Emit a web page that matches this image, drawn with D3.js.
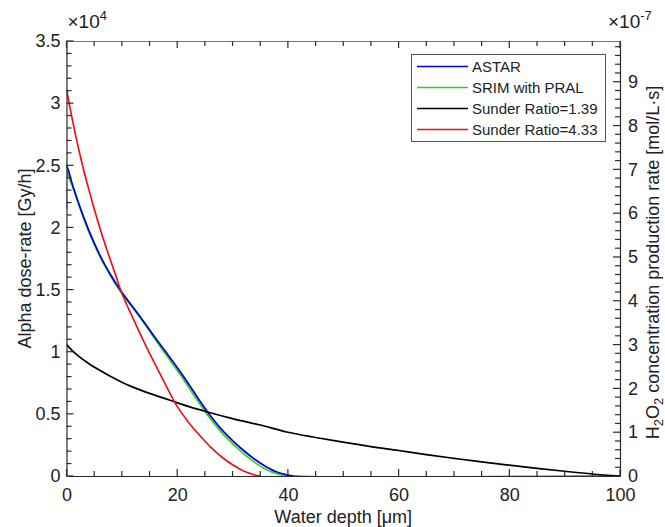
<!DOCTYPE html>
<html>
<head>
<meta charset="utf-8">
<script src="https://cdn.jsdelivr.net/npm/d3@7"></script>
<style>
  body { margin: 0; background: #fff; }
  text { font-family: "Liberation Sans", Arial, sans-serif; fill: #222; }
</style>
</head>
<body>
<div id="chart"></div>
<script>
// Depth in um, dose rate in 1e4 Gy/h
const astarDepth = [0, 0, 1, 2, 3, 4, 5, 6, 7, 8, 9, 10, 12, 14, 16, 18, 20, 22, 24, 26, 28, 30, 32, 34, 36, 38, 40, 41, 100];
const astarDose = [2.15, 2.5, 2.355, 2.22, 2.095, 1.98, 1.875, 1.78, 1.695, 1.617, 1.545, 1.479, 1.36, 1.24, 1.115, 0.995, 0.873, 0.745, 0.61, 0.485, 0.375, 0.285, 0.205, 0.135, 0.077, 0.032, 0.007, 0, 0];

const srimDepth = [0, 0, 1, 2, 3, 4, 5, 6, 7, 8, 9, 10, 12, 14, 16, 18, 20, 22, 24, 26, 28, 30, 32, 34, 36, 38, 40];
const srimDose = [3.6, 2.47, 2.34, 2.21, 2.085, 1.97, 1.865, 1.77, 1.685, 1.607, 1.535, 1.469, 1.35, 1.23, 1.1, 0.975, 0.85, 0.72, 0.585, 0.46, 0.35, 0.26, 0.18, 0.11, 0.055, 0.018, 0];

const sr139Depth = [0, 1, 2, 4, 6, 8, 10, 12, 15, 18.7, 22, 25.3, 30, 35, 40, 45, 50, 55, 60, 65, 70, 75, 80, 85, 90, 95, 100];
const sr139Dose = [1.06, 1.01, 0.97, 0.905, 0.85, 0.8, 0.755, 0.715, 0.665, 0.61, 0.56, 0.517, 0.462, 0.41, 0.352, 0.31, 0.272, 0.236, 0.205, 0.172, 0.142, 0.113, 0.087, 0.062, 0.038, 0.016, 0];

const sr433Depth = [0, 1, 2, 3, 4, 5, 6, 7, 8, 9, 10, 12, 14, 16, 18, 19.3, 20, 22, 24, 26, 28, 30, 32, 34, 35];
const sr433Dose = [3.11, 2.88, 2.67, 2.48, 2.31, 2.15, 2.0, 1.86, 1.73, 1.6, 1.47, 1.27, 1.08, 0.9, 0.725, 0.615, 0.56, 0.435, 0.33, 0.235, 0.155, 0.09, 0.04, 0.008, 0];

const seriesNames = ["ASTAR", "SRIM with PRAL", "Sunder Ratio=1.39", "Sunder Ratio=4.33"];
const seriesColors = ["#0000d8", "#33d017", "#000000", "#e8141c"];

const xTicks = [0, 20, 40, 60, 80, 100];
const yTicks = [0, 0.5, 1, 1.5, 2, 2.5, 3, 3.5];
const y2Ticks = [0, 1, 2, 3, 4, 5, 6, 7, 8, 9];

const width = 665, height = 527;
const margin = { left: 66.5, right: 45, top: 41, bottom: 51 };
const x0 = margin.left, x1 = width - margin.right;
const yTop = margin.top, yBot = height - margin.bottom;

const x = d3.scaleLinear().domain([0, 100]).range([x0, x1]);
const y = d3.scaleLinear().domain([0, 3.5]).range([yBot, yTop]);
const y2 = d3.scaleLinear().domain([0, 9.93]).range([yBot, yTop]);

const svg = d3.select("#chart").append("svg")
  .attr("width", width).attr("height", height);

svg.append("clipPath").attr("id", "clip")
  .append("rect").attr("x", x0).attr("y", yTop).attr("width", x1 - x0).attr("height", yBot - yTop);

// Curves
const line = d3.line().x(d => x(d[0])).y(d => y(d[1])).curve(d3.curveCatmullRom.alpha(0.5));
const series = [
  [srimDepth, srimDose, 1],
  [astarDepth, astarDose, 0],
  [sr139Depth, sr139Dose, 2],
  [sr433Depth, sr433Dose, 3],
];
const g = svg.append("g").attr("clip-path", "url(#clip)");
series.forEach(([xs, ys, k]) => {
  g.append("path")
    .datum(xs.map((v, i) => [v, ys[i]]))
    .attr("d", line)
    .attr("fill", "none")
    .attr("stroke", seriesColors[k])
    .attr("stroke-width", 1.7);
});

// Axes: labels and axis lines from d3 axes, inward ticks drawn below
const axisColor = "#2a2a2a";
function styleAxis(sel) {
  sel.select(".domain").attr("stroke", axisColor).attr("stroke-width", 1.2);
  sel.selectAll(".tick line").remove();
  sel.selectAll(".tick text").attr("font-size", 18).attr("fill", "#222")
    .attr("font-family", "Liberation Sans, Arial, sans-serif");
}

svg.append("g").attr("transform", `translate(0,${yBot})`)
  .call(d3.axisBottom(x).tickValues(xTicks).tickSize(0).tickPadding(12).tickFormat(d3.format("d")))
  .call(styleAxis);
svg.append("g").attr("transform", `translate(0,${yTop})`)
  .call(d3.axisTop(x).tickValues(xTicks).tickSize(0).tickFormat(""))
  .call(styleAxis)
  .call(s => s.select(".domain").attr("stroke", "#777"));
svg.append("g").attr("transform", `translate(${x0},0)`)
  .call(d3.axisLeft(y).tickValues(yTicks).tickSize(0).tickPadding(6).tickFormat(d => d3.format("")(d)))
  .call(styleAxis);
svg.append("g").attr("transform", `translate(${x1},0)`)
  .call(d3.axisRight(y2).tickValues(y2Ticks).tickSize(0).tickPadding(8).tickFormat(d3.format("d")))
  .call(styleAxis);

// tick marks
const xMinor = d3.range(0, 101, 5);
const yMinor = d3.range(0, 35.1, 1).map(v => v / 10);
const y2Minor = d3.range(0, 49.1, 1).map(v => v / 5);
const ticks = svg.append("g").attr("stroke", axisColor).attr("stroke-width", 1.2);
xMinor.forEach(v => {
  const len = v % 20 === 0 ? 7 : 5;
  const px = x(v);
  ticks.append("line").attr("x1", px).attr("x2", px).attr("y1", yBot).attr("y2", yBot - len);
  ticks.append("line").attr("x1", px).attr("x2", px).attr("y1", yTop).attr("y2", yTop + len);
});
yMinor.forEach(v => {
  const len = Math.round(v * 10) % 5 === 0 ? 7 : 5;
  const py = y(v);
  ticks.append("line").attr("x1", x0).attr("x2", x0 + len).attr("y1", py).attr("y2", py);
});
y2Minor.forEach(v => {
  const len = Math.round(v * 5) % 5 === 0 ? 7 : 5;
  const py = y2(v);
  ticks.append("line").attr("x1", x1).attr("x2", x1 - len).attr("y1", py).attr("y2", py);
});

// Exponent labels
const e1 = svg.append("text").attr("x", x0 + 1).attr("y", 28).attr("font-size", 19);
e1.append("tspan").text("\u00d710");
e1.append("tspan").attr("dy", -8).attr("font-size", 13).text("4");
const e2 = svg.append("text").attr("x", 608).attr("y", 28).attr("font-size", 19);
e2.append("tspan").text("\u00d710");
e2.append("tspan").attr("dy", -8).attr("font-size", 13).text("-7");

// Axis titles
svg.append("text")
  .attr("x", (x0 + x1) / 2).attr("y", 523)
  .attr("text-anchor", "middle").attr("font-size", 18)
  .text("Water depth [\u03bcm]");

svg.append("text")
  .attr("transform", `translate(31,${(yTop + yBot) / 2}) rotate(-90)`)
  .attr("text-anchor", "middle").attr("font-size", 18)
  .text("Alpha dose-rate [Gy/h]");

const t2 = svg.append("text")
  .attr("transform", `translate(659,${(yTop + yBot) / 2 + 4}) rotate(-90)`)
  .attr("text-anchor", "middle").attr("font-size", 18);
t2.append("tspan").text("H");
t2.append("tspan").attr("dy", 4).attr("font-size", 13).text("2");
t2.append("tspan").attr("dy", -4).text("O");
t2.append("tspan").attr("dy", 4).attr("font-size", 13).text("2");
t2.append("tspan").attr("dy", -4).text(" concentration production rate [mol/L\u00b7s]");

// Legend
const lg = svg.append("g");
lg.append("rect")
  .attr("x", 411.5).attr("y", 54.5).attr("width", 194).attr("height", 87)
  .attr("fill", "#fff").attr("stroke", "#555").attr("stroke-width", 1);
seriesNames.forEach((name, i) => {
  const yy = 66.5 + i * 21;
  lg.append("line")
    .attr("x1", 417).attr("x2", 468).attr("y1", yy).attr("y2", yy)
    .attr("stroke", seriesColors[i]).attr("stroke-width", 1.7);
  lg.append("text")
    .attr("x", 472).attr("y", yy + 5.5).attr("font-size", 15)
    .text(name);
});
</script>
</body>
</html>
